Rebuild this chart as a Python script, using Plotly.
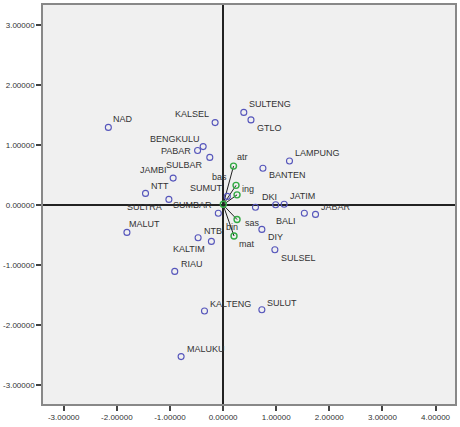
import plotly.graph_objects as go

# Object scores (provinces)
provinces = ["NAD", "KALSEL", "SULTENG", "GTLO", "BENGKULU", "PABAR", "SULBAR",
             "LAMPUNG", "BANTEN", "JAMBI", "NTT", "SULTRA", "SUMUT", "DKI", "",
             "JATIM", "SUMBAR", "BALI", "JABAR", "MALUT", "NTB", "KALTIM", "RIAU",
             "DIY", "SULSEL", "KALTENG", "SULUT", "MALUKU"]
prov_x = [-2.16, -0.15, 0.39, 0.525, -0.375, -0.48, -0.25, 1.25, 0.75, -0.94, -1.46,
          -1.02, 0.08, 0.61, 0.99, 1.15, -0.09, 1.53, 1.74, -1.81, -0.47, -0.22, -0.91,
          0.73, 0.975, -0.35, 0.73, -0.79]
prov_y = [1.29, 1.37, 1.54, 1.415, 0.97, 0.905, 0.79, 0.73, 0.61, 0.445, 0.19,
          0.09, 0.14, -0.04, 0.0, 0.01, -0.14, -0.14, -0.16, -0.46, -0.55, -0.61, -1.11,
          -0.41, -0.75, -1.77, -1.75, -2.53]

# Variable loadings
variables = ["atr", "bas", "ing", "sas", "mat", "bin"]
var_x = [0.197, 0.244, 0.263, 0.263, 0.206, 0.005]
var_y = [0.645, 0.324, 0.166, -0.246, -0.52, 0.01]

# label placement (anchor, xshift px, yshift px) - layout only
prov_lab = [("left", 3, 8), ("right", -4, 9), ("left", 3, 8), ("left", 4, -8),
            ("right", -1, 8), ("right", -5, 0), ("right", -5, -8), ("left", 4, 8),
            ("left", 4, -7), ("right", -4, 8), ("left", 3, 7), ("right", -5, -8),
            ("right", -3, 8), ("left", 5, 10), ("left", 0, 0), ("left", 4, 8),
            ("right", -4, 8), ("right", -6, -8), ("left", 3, 7), ("left", 0, 8),
            ("left", 4, 7), ("right", -4, -8), ("left", 4, 7), ("left", 4, -8),
            ("left", 4, -8), ("left", 4, 7), ("left", 3, 7), ("left", 4, 8)]
var_lab = [("left", 1, 9), ("right", -7, 8), ("left", 3, 6), ("left", 6, -3),
           ("left", 3, -8), ("left", 1, -23)]

tick_vals_x = [-3, -2, -1, 0, 1, 2, 3, 4]
tick_vals_y = [-3, -2, -1, 0, 1, 2, 3]

fig = go.Figure()

# vectors
lx, ly = [], []
for vx, vy in zip(var_x, var_y):
    lx += [0, vx, None]
    ly += [0, vy, None]
fig.add_trace(go.Scatter(x=lx, y=ly, mode="lines",
                         line=dict(color="#222222", width=1), hoverinfo="skip"))

fig.add_trace(go.Scatter(x=var_x, y=var_y, mode="markers",
                         marker=dict(symbol="circle-open", size=6, color="#33aa44",
                                     line=dict(width=1.4, color="#33aa44"))))

fig.add_trace(go.Scatter(x=prov_x, y=prov_y, mode="markers",
                         marker=dict(symbol="circle-open", size=6, color="#5555bb",
                                     line=dict(width=1.1, color="#5555bb"))))

annots = []
for name, px, py, (anc, dx, dy) in zip(provinces, prov_x, prov_y, prov_lab):
    if not name:
        continue
    annots.append(dict(x=px, y=py, xref="x", yref="y", text=name, showarrow=False,
                       xanchor=anc, yanchor="middle", xshift=dx, yshift=dy,
                       font=dict(family="Arial, Liberation Sans", size=9, color="#333333")))
for name, px, py, (anc, dx, dy) in zip(variables, var_x, var_y, var_lab):
    annots.append(dict(x=px, y=py, xref="x", yref="y", text=name, showarrow=False,
                       xanchor=anc, yanchor="middle", xshift=dx, yshift=dy,
                       font=dict(family="Arial, Liberation Sans", size=9, color="#333333")))

axis_common = dict(showgrid=False, zeroline=True, zerolinecolor="#222222", zerolinewidth=1.5,
                   showline=True, mirror=True, linecolor="#888888", linewidth=1.5,
                   ticks="outside", ticklen=5, tickcolor="#444444", tickwidth=1.5,
                   tickfont=dict(family="Arial, Liberation Sans", size=8, color="#333333"))

fig.update_layout(
    width=460, height=427,
    margin=dict(l=43, r=3, t=4, b=23),
    paper_bgcolor="white", plot_bgcolor="#f0f0f0",
    showlegend=False,
    annotations=annots,
    xaxis=dict(range=[-3.39, 4.366], tickvals=tick_vals_x,
               ticktext=[f"{v:.5f}" for v in tick_vals_x], **axis_common),
    yaxis=dict(range=[-3.32, 3.33], tickvals=tick_vals_y,
               ticktext=[f"{v:.5f}" for v in tick_vals_y], **axis_common),
)

fig.write_html("out.html")
